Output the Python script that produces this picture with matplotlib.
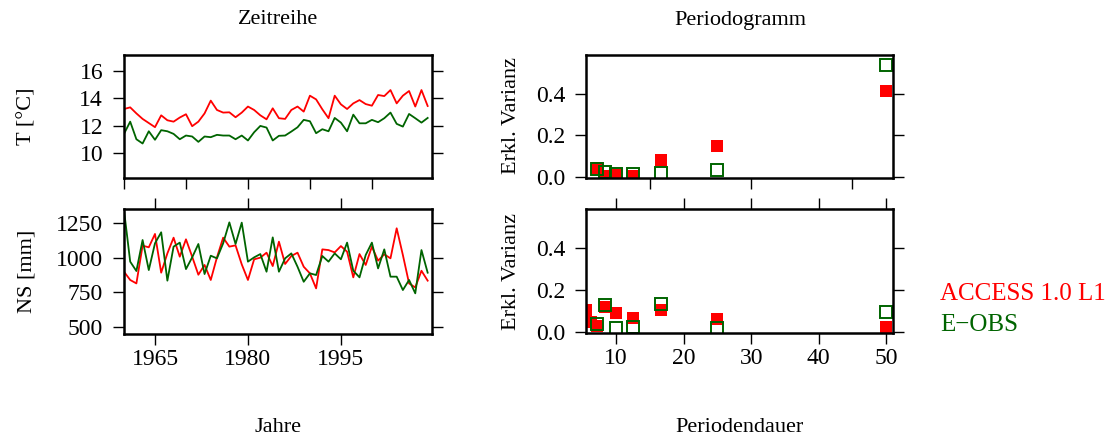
import numpy as np
import matplotlib
matplotlib.use("Agg")
import matplotlib.pyplot as plt

plt.rcParams['font.family'] = ['Liberation Serif', 'DejaVu Serif']

RED   = "#FF0000"
GREEN = "#006400"

# Zeitreihe (1960-2009)
years = list(range(1960, 2010))

temp_access = [13.22, 13.34, 12.90, 12.50, 12.20, 11.90, 12.76, 12.40, 12.30, 12.60,
               12.84, 11.97, 12.30, 12.90, 13.83, 13.15, 12.96, 12.98, 12.62, 12.96,
               13.40, 13.15, 12.76, 12.47, 13.27, 12.55, 12.50, 13.15, 13.40, 13.03,
               14.19, 13.92, 13.20, 12.55, 14.19, 13.56, 13.22, 13.63, 13.87, 13.58,
               13.46, 14.24, 14.16, 14.60, 13.63, 14.19, 14.53, 13.40, 14.60, 13.44]
temp_eobs   = [11.41, 12.30, 11.02, 10.71, 11.60, 10.98, 11.68, 11.60, 11.41, 11.02,
               11.29, 11.22, 10.83, 11.22, 11.17, 11.34, 11.29, 11.29, 11.02, 11.29,
               10.93, 11.53, 11.99, 11.87, 10.93, 11.27, 11.29, 11.58, 11.89, 12.43,
               12.33, 11.46, 11.75, 11.60, 12.57, 12.23, 11.60, 12.81, 12.18, 12.18,
               12.43, 12.26, 12.55, 12.96, 12.14, 11.94, 12.86, 12.55, 12.23, 12.57]

ns_access = [899, 839, 814, 1088, 1076, 1173, 892, 1032, 1146, 1008,
             1134, 1008, 877, 948, 839, 1003, 1146, 1081, 1090, 952,
             839, 989, 1001, 1037, 940, 1117, 955, 1013, 1037, 935,
             887, 778, 1061, 1056, 1039, 1085, 1044, 858, 1027, 948,
             1081, 979, 1025, 996, 1214, 1020, 814, 785, 906, 834]
ns_eobs   = [1345, 972, 904, 1129, 911, 1105, 1185, 834, 1081, 1110,
             918, 1003, 1100, 882, 1015, 996, 1105, 1257, 1100, 1255,
             972, 1003, 1027, 899, 1148, 899, 996, 1032, 935, 826,
             887, 875, 1013, 972, 1032, 989, 1110, 906, 858, 1020,
             1110, 923, 1061, 863, 863, 766, 839, 742, 1056, 892]

# Periodogramm
periods = [50.0, 25.0, 16.67, 12.5, 10.0, 8.33, 7.14, 6.25, 5.56]
pg_t_access = [0.413, 0.150, 0.083, 0.006, 0.010, 0.006, 0.045, np.nan, np.nan]
pg_t_eobs   = [0.537, 0.035, 0.022, 0.014, 0.016, 0.027, 0.041, np.nan, np.nan]
pg_ns_access = [0.025, 0.061, 0.105, 0.066, 0.089, 0.120, 0.030, 0.050, 0.105]
pg_ns_eobs   = [0.094, 0.022, 0.135, 0.024, 0.022, 0.127, 0.040, np.nan, np.nan]

W, H = 1112, 438
fig = plt.figure(figsize=(W / 100, H / 100), dpi=100)


def box(x0, y0, x1, y1):
    return fig.add_axes([x0 / W, 1 - y1 / H, (x1 - x0) / W, (y1 - y0) / H])


ax_t  = box(124, 55, 432, 178)
ax_ns = box(124, 209, 432, 334)
ax_p1 = box(586, 55, 893, 178)
ax_p2 = box(586, 209, 893, 333)

for ax in (ax_t, ax_ns, ax_p1, ax_p2):
    for s in ax.spines.values():
        s.set_linewidth(1.8)
    ax.tick_params(direction="out", length=8, width=1.0, labelsize=17, pad=7)

# time series
ax_t.plot(years, temp_access, color=RED, lw=1.3)
ax_t.plot(years, temp_eobs, color=GREEN, lw=1.3)
ax_t.set_xlim(1960, 2009.7)
ax_t.set_ylim(8.2, 17.15)
ax_t.set_yticks([10, 12, 14, 16])
ax_t.set_xticks([1960, 1970, 1980, 1990, 2000])
ax_t.tick_params(left=True, right=True, labelleft=True, labelright=False,
                 bottom=True, top=False, labelbottom=False)

ax_ns.plot(years, ns_access, color=RED, lw=1.3)
ax_ns.plot(years, ns_eobs, color=GREEN, lw=1.3)
ax_ns.set_xlim(1960, 2009.7)
ax_ns.set_ylim(447, 1354)
ax_ns.set_yticks([500, 750, 1000, 1250])
ax_ns.set_xticks([1965, 1980, 1995])
ax_ns.tick_params(left=True, right=True, labelleft=True, labelright=False,
                  bottom=True, top=True, labelbottom=True, labeltop=False)
ax_ns.tick_params(axis="x", pad=3)

# periodograms
for ax, ra, ge in ((ax_p1, pg_t_access, pg_t_eobs), (ax_p2, pg_ns_access, pg_ns_eobs)):
    ax.plot(periods, ra, ls="none", marker="s", ms=9, mfc=RED, mec=RED, mew=0)
    ax.plot(periods, ge, ls="none", marker="s", ms=8.5, mfc="none", mec=GREEN, mew=1.4)
    ax.set_xlim(50 / 9, 51.0)
    ax.set_ylim(-0.004, 0.585)
    ax.set_yticks([0.0, 0.2, 0.4])
    ax.set_yticklabels(["0.0", "0.2", "0.4"])

ax_p1.set_xticks([15, 30, 45])
ax_p1.tick_params(left=True, right=True, labelleft=True, labelright=False,
                  bottom=True, top=False, labelbottom=False)
ax_p2.set_xticks([10, 20, 30, 40, 50])
ax_p2.tick_params(left=True, right=True, labelleft=True, labelright=False,
                  bottom=True, top=True, labelbottom=True, labeltop=False)
ax_p2.tick_params(axis="x", pad=3)

# texts
fig.text(278 / W, 1 - 20 / H, "Zeitreihe", ha="center", va="center", fontsize=16)
fig.text(740 / W, 1 - 20 / H, "Periodogramm", ha="center", va="center", fontsize=16)
fig.text(278 / W, 1 - 427 / H, "Jahre", ha="center", va="center", fontsize=16)
fig.text(740 / W, 1 - 427 / H, "Periodendauer", ha="center", va="center", fontsize=16)

fig.text(27 / W, 1 - 116 / H, "T [°C]", rotation=90, ha="center", va="center", fontsize=16)
fig.text(27 / W, 1 - 271 / H, "NS [mm]", rotation=90, ha="center", va="center", fontsize=16)
fig.text(512 / W, 1 - 116 / H, "Erkl. Varianz", rotation=90, ha="center", va="center", fontsize=16)
fig.text(512 / W, 1 - 271 / H, "Erkl. Varianz", rotation=90, ha="center", va="center", fontsize=16)

fig.text(940 / W, 1 - 294 / H, "ACCESS 1.0 L1", color=RED, ha="left", va="center", fontsize=18)
fig.text(940 / W, 1 - 325 / H, "E\u2212OBS", color=GREEN, ha="left", va="center", fontsize=18)

fig.savefig("out.png", dpi=100)
